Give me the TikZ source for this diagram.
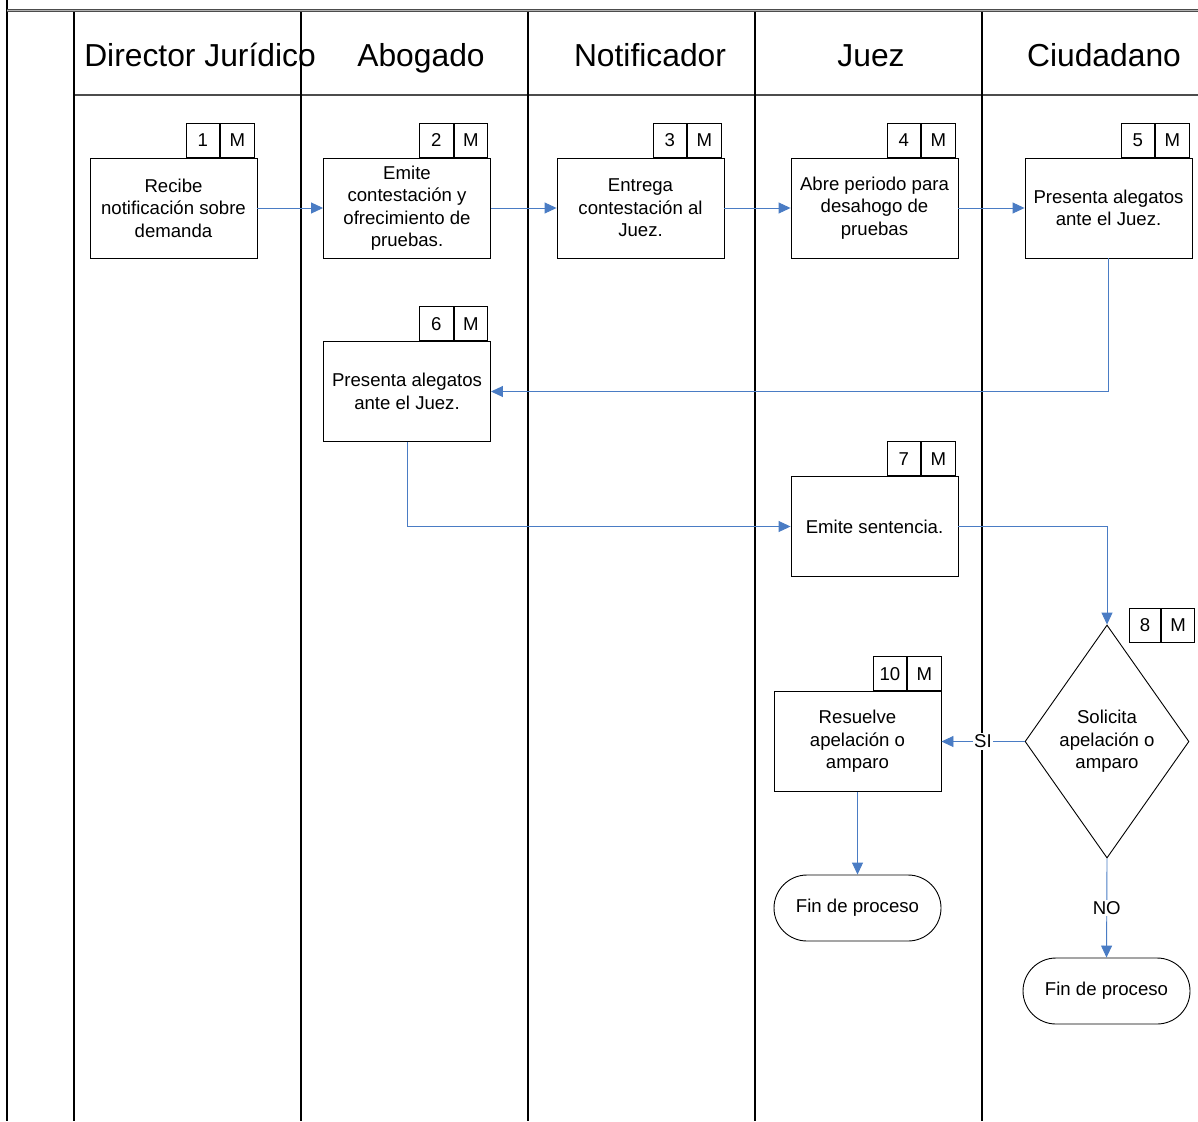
\documentclass[tikz,border=0pt]{standalone}
\usepackage{fontspec}
\setmainfont{Liberation Sans}
\usetikzlibrary{arrows.meta,shapes.geometric}
\definecolor{flowblue}{RGB}{74,124,196}
\newcommand\boxfont{\fontsize{18.6}{22.5}\selectfont}
\newcommand\headfont{\fontsize{31.8}{36}\selectfont}
\tikzset{
  stepbox/.style={draw, line width=0.9pt, fill=white, minimum width=167pt,
    minimum height=100pt, inner sep=0pt, align=center, font=\boxfont},
  tag/.style={draw, line width=0.9pt, fill=white, minimum width=33.5pt,
    minimum height=34pt, inner sep=0pt, font=\boxfont},
  decide/.style={draw, line width=0.9pt, fill=white, diamond, aspect=0.7,
    minimum width=164pt, minimum height=233pt, inner sep=0pt, align=center, font=\boxfont},
  endbox/.style={draw, line width=0.9pt, fill=white, rounded corners=33pt,
    minimum width=167pt, minimum height=66pt, inner sep=0pt, font=\boxfont},
  lane/.style={line width=1.4pt, black},
  head/.style={font=\headfont, inner sep=0pt, anchor=base},
  flow/.style={draw=flowblue, line width=0.9pt, -{Triangle[length=12pt,width=11pt]}},
  lbl/.style={fill=white, inner sep=1.5pt, font=\boxfont},
}
\begin{document}
\begin{tikzpicture}[x=1pt,y=-1pt]
\useasboundingbox (0,0) rectangle (1198,1121);
% frame and swimlane rules
\draw[lane] (7,0) -- (7,1121);
\draw[draw=black!70, double=gray!60, double distance=1.2pt, line width=0.9pt] (7,10.5) -- (1198,10.5);
\draw[gray!60!black, line width=2.4pt] (74,95) -- (1198,95);
\foreach \x in {74,301,528,755,982}
  \draw[lane] (\x,12) -- (\x,1121);

% lane titles
\node[head] (hdir) at (200,66.5) {Director Jurídico};
\node[head] (habo) at (421,66.5) {Abogado};
\node[head] (hnot) at (650,66.5) {Notificador};
\node[head] (hjue) at (871,66.5) {Juez};
\node[head] (hciu) at (1104,66.5) {Ciudadano};

% activities
\node[stepbox] (b1) at (173.5,208) {Recibe\\notificación sobre\\demanda};
\node[stepbox] (b2) at (407,208) {Emite\\contestación y\\ofrecimiento de\\pruebas.};
\node[stepbox] (b3) at (640.5,208) {Entrega\\contestación al\\Juez.};
\node[stepbox] (b4) at (874.5,208) {Abre periodo para\\desahogo de\\pruebas};
\node[stepbox] (b5) at (1108.5,208) {Presenta alegatos\\ante el Juez.};
\node[stepbox] (b6) at (407,391.5) {Presenta alegatos\\ante el Juez.};
\node[stepbox] (b7) at (874.5,526.5) {Emite sentencia.};
\node[decide] (d8) at (1107,741.5) {Solicita\\apelación o\\amparo};
\node[stepbox] (b10) at (857.5,741.5) {Resuelve\\apelación o\\amparo};
\node[endbox] (t1) at (857.5,908) {Fin de proceso};
\node[endbox] (t2) at (1106.5,991) {Fin de proceso};

% step number / type tags
\foreach \k in {1,2,3,4,5,6,7} {
  \node[tag, anchor=south east] (m\k) at ([xshift=-3pt]b\k.north east) {M};
  \node[tag, anchor=east] (n\k) at (m\k.west) {\k};
}
\node[tag, anchor=north east, minimum width=33pt] (m8) at (1195,608) {M};
\node[tag, anchor=east, minimum width=31pt] (n8) at (m8.west) {8};
\node[tag, anchor=south east] (m10) at (b10.north east) {M};
\node[tag, anchor=east] (n10) at (m10.west) {10};

% flow
\draw[flow] (b1) -- (b2);
\draw[flow] (b2) -- (b3);
\draw[flow] (b3) -- (b4);
\draw[flow] (b4) -- (b5);
\draw[flow] (b5.south) |- (b6.east);
\draw[flow] (b6.south) |- (b7.west);
\draw[flow] (b7.east) -| (d8.north);
\draw[flow] (d8.west) -- node[lbl] (si) {SI} (b10.east);
\draw[flow] (b10.south) -- (t1.north);
\draw[flow] (d8.south) -- node[lbl] (no) {NO} (t2.north);
\end{tikzpicture}
\end{document}
